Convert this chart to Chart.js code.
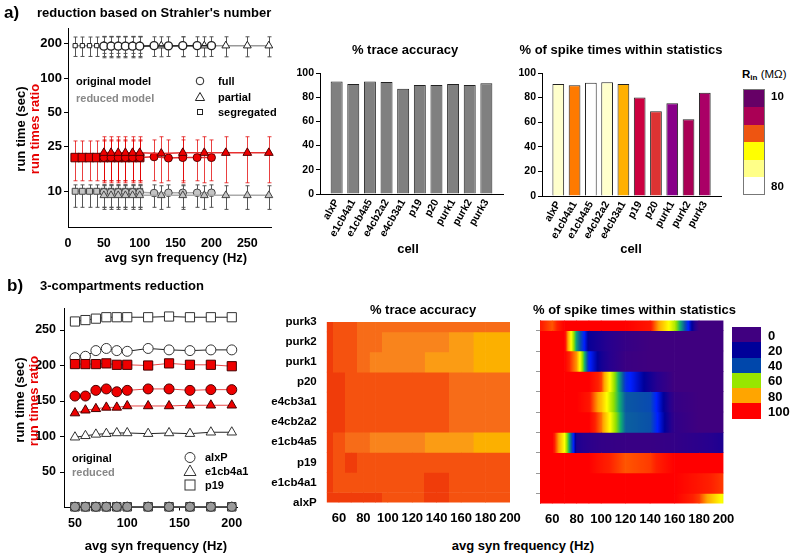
<!DOCTYPE html>
<html><head><meta charset="utf-8">
<script src="https://cdn.jsdelivr.net/npm/chart.js@4"></script>
<style>
html,body{margin:0;padding:0;background:#fff;}
#wrap{position:relative;width:797px;height:554px;overflow:hidden;font-family:"Liberation Sans",Arial,Helvetica,sans-serif;font-weight:bold;color:#000;}
canvas{position:absolute;}
.t{position:absolute;white-space:nowrap;line-height:1;}
.band{position:absolute;}
</style></head><body><div id="wrap"></div>
<script>
// ---------------- DATA ----------------
// Panel a) left: run time vs avg syn frequency (log scale)
const freqSegregated = [10,20,30,40,50,60,70,80,90,100];
const freqFull = [50,60,70,80,90,100,120,140,160,180,200];
const freqPartial = [50,60,70,80,90,100,130,160,190,220,250,280];

const origSegregated = [193,193,193,193,193,193,193,193,193,193];
const origSegLo = [155,155,155,155,155,155,155,155,155,155];
const origSegHi = [230,230,230,230,230,230,230,230,230,230];
const origFull = [191,191,191,191,191,191,193,192,193,193,193];
const origFullLo = [165,165,165,165,165,165,155,155,155,155,155];
const origFullHi = [232,232,232,232,232,232,231,231,231,231,231];
const origPartial = [192,192,192,192,192,192,193,193,193,193,193,193];
const origPartLo = [151,151,151,151,151,151,154,154,154,154,154,154];
const origPartHi = [233,233,233,233,233,233,231,231,231,231,231,231];

const ratioSegregated = [20,20,20,20,20,20,20,20,20,20];
const ratioSegLo = [12.5,12.5,12.5,12.5,12.5,12.5,12.5,12.5,12.5,12.5];
const ratioSegHi = [28,28,28,28,28,28,28,28,28,28];
const ratioFull = [20,20,20,20,20,20,20.3,19.8,20,20,20];
const ratioFullLo = [12.5,12.5,12.5,12.5,12.5,12.5,12.5,12.5,12.5,12.5,12.5];
const ratioFullHi = [28.6,28.6,28.6,28.6,28.6,28.6,28.6,28.6,28.6,28.6,28.6];
const ratioPartial = [22,22,22,22,22,22,21.7,22,22,22,22,22];
const ratioPartLo = [12,12,12,12,12,12,12,12,12,12,12,12];
const ratioPartHi = [30.5,30.5,30.5,30.5,30.5,30.5,30.5,30.5,30.5,30.5,30.5,30.5];

const redSegregated = [10.1,10.1,10.1,10.1,10.1,10.1,10.1,10.1,10.1,10.1];
const redSegLo = [7.3,7.3,7.3,7.3,7.3,7.3,7.3,7.3,7.3,7.3];
const redSegHi = [11.5,11.5,11.5,11.5,11.5,11.5,11.5,11.5,11.5,11.5];
const redFull = [9.9,9.9,9.9,9.9,9.9,9.9,9.75,9.8,9.8,9.8,9.8];
const redFullLo = [7.3,7.3,7.3,7.3,7.3,7.3,7.3,7.3,7.3,7.3,7.3];
const redFullHi = [11.5,11.5,11.5,11.5,11.5,11.5,11.5,11.5,11.5,11.5,11.5];
const redPartial = [9.3,9.3,9.3,9.3,9.3,9.3,9.3,9.3,9.3,9.3,9.3,9.3];
const redPartLo = [7,7,7,7,7,7,7,7,7,7,7,7];
const redPartHi = [11.3,11.3,11.3,11.3,11.3,11.3,11.3,11.3,11.3,11.3,11.3,11.3];

const a1XTicks = [0,50,100,150,200,250];
const a1YTicks = [10,25,50,100,200];

// Panel a) bar charts
const barCells = ['alxP','e1cb4a1','e1cb4a5','e4cb2a2','e4cb3a1','p19','p20','purk1','purk2','purk3'];
const traceAccuracy = [93,91,93,92.5,87,90,90,91,90,91.5];
const spikeWithin = [91,90,92,92.5,91,80,69,75.5,62.5,84];
const barYTicks = [0,20,40,60,80,100];
const rinTickLabels = ['10','80'];

// Panel b) left: 3-compartment reduction
const freqB = [50,60,70,80,90,100,120,140,160,180,200];
const origAlxP = [211,213,221,224,221,220,224,222,221,222,222];
const origE1cb4a1 = [99,101,103,104,105,105,104,105,104,106,106];
const origP19 = [262,264,266,268,268,268,268,269,268,268,268];
const ratioAlxP = [157,157,165,167,163,165,167,167,165,166,166];
const ratioE1cb4a1 = [133,137,139,141,141,143,143,143,144,144,144];
const ratioP19 = [202,202,202,203,201,201,200,203,201,201,199];
const reducedAlxP = [1,1,1,1,1,1,1,1,1,1,1];
const reducedE1cb4a1 = [1,1,1,1,1,1,1,1,1,1,1];
const reducedP19 = [1,1,1,1,1,1,1,1,1,1,1];
const b1XTicks = [50,100,150,200];
const b1YTicks = [50,100,150,200,250];

// Panel b) heatmaps (rows: cells bottom->top, columns: heatFreq)
const heatCells = ['alxP','e1cb4a1','p19','e1cb4a5','e4cb2a2','e4cb3a1','p20','purk1','purk2','purk3'];
const heatFreq = [50,60,70,80,90,100,120,140,160,180,200];
const heatXTicks = [60,80,100,120,140,160,180,200];
const traceAccMap = [
  [98,98,98,98,98,96,96,98,96,96,96],
  [98,96,96,96,96,96,96,98,96,96,96],
  [98,96,98,96,96,96,96,96,96,96,96],
  [98,96,94,94,92,92,92,90,90,88,88],
  [98,98,96,96,96,96,96,96,94,94,94],
  [98,98,96,96,96,96,96,96,94,94,94],
  [98,98,96,96,96,96,96,96,94,94,94],
  [98,96,96,94,92,92,92,90,90,88,88],
  [98,96,96,94,94,92,92,92,90,88,88],
  [98,96,96,94,94,94,94,94,94,94,94]
];
const spikeMap = [
  [100,100,100,100,100,100,100,100,100,92,68],
  [100,100,100,100,100,100,100,100,100,96,92],
  [100,100,100,100,100,96,90,92,100,100,100],
  [100,100,70,12,8,5,3,3,5,8,12],
  [100,100,100,100,100,88,38,36,6,0,0],
  [100,100,100,100,96,80,37,35,4,0,0],
  [100,100,100,100,100,92,30,14,0,0,0],
  [100,100,100,85,28,14,2,0,0,0,0],
  [100,100,100,45,16,12,4,0,0,0,0],
  [95,90,100,100,100,100,100,96,62,0,0]
];
const spikeLegendTicks = [0,20,40,60,80,100];

// ---------------- STYLE ----------------
const rinColors = ['#ffffcc','#ff7a00','#ffffff','#ffffcc','#ffb000','#cc0040','#dd3333','#880088','#aa0055','#aa0066'];
const rinLegendColors = ['#660066','#aa0055','#ee5511','#ffff00','#ffff88','#ffffff'];
const spikeLegendColors = ['#400080','#000099','#0047ab','#99e600','#ffa500','#ff0000'];
const traceLevels = [[97,'#f03c0a'],[95,'#f5520f'],[93,'#f76c18'],[91,'#f9841c'],[89,'#fb9c14'],[-1,'#fcb000']];
const spikeStops = [[0,'#3f007f'],[10,'#26008f'],[18,'#000099'],[27,'#0020ff'],[36,'#0a50a8'],[48,'#10b070'],[58,'#90e000'],[70,'#ffff00'],[84,'#ffa500'],[94,'#ff2000'],[100,'#ff0000']];
const RED = '#e60000';

const wrap = document.getElementById('wrap');
Chart.defaults.font.family = '"Liberation Sans", Arial, Helvetica, sans-serif';
Chart.defaults.font.weight = 'bold';
Chart.defaults.color = '#000';

function mkCanvas(L,T,W,H){
  const c = document.createElement('canvas');
  c.width = W; c.height = H;
  c.style.left = L+'px'; c.style.top = T+'px'; c.style.width = W+'px'; c.style.height = H+'px';
  wrap.appendChild(c); return c;
}
function txt(s, x, y, o={}){
  const d = document.createElement('div'); d.className = 't';
  d.innerHTML = s;
  d.style.fontSize = (o.size||13)+'px';
  d.style.color = o.color||'#000';
  d.style.fontWeight = o.weight||'bold';
  d.style.left = x+'px'; d.style.top = y+'px';
  const tx = o.align==='center' ? '-50%' : (o.align==='right' ? '-100%' : '0');
  d.style.transform = `translate(${tx},-50%)` + (o.rot ? ` rotate(${o.rot}deg)` : '');
  wrap.appendChild(d); return d;
}
function band(x,y,w,h,color){
  const d = document.createElement('div'); d.className='band';
  d.style.left=x+'px'; d.style.top=y+'px'; d.style.width=w+'px'; d.style.height=h+'px'; d.style.background=color;
  wrap.appendChild(d); return d;
}
function hexToRgb(h){ const n=parseInt(h.slice(1),16); return [(n>>16)&255,(n>>8)&255,n&255]; }
function spikeColor(v){
  for (let i=1;i<spikeStops.length;i++){
    if (v <= spikeStops[i][0]){
      const [v0,c0]=spikeStops[i-1], [v1,c1]=spikeStops[i];
      const t=(v-v0)/(v1-v0), a=hexToRgb(c0), b=hexToRgb(c1);
      return `rgb(${a.map((x,k)=>Math.round(x+(b[k]-x)*t)).join(',')})`;
    }
  }
  return spikeStops[spikeStops.length-1][1];
}
function traceColor(v){ for (const [th,c] of traceLevels) if (v>=th) return c; return traceLevels[traceLevels.length-1][1]; }
const setTicks = arr => s => { s.ticks = arr.map(v=>({value:v})); };
function base(pad){
  return { responsive:false, animation:false, events:[],
    layout:{padding:Object.assign({left:0,bottom:0},pad)},
    plugins:{legend:{display:false}, tooltip:{enabled:false}} };
}

const errorBarPlugin = {
  id:'errbars',
  beforeDatasetsDraw(chart){
    const ctx = chart.ctx, xs = chart.scales.x, ys = chart.scales.y;
    chart.data.datasets.forEach(ds=>{
      if (!ds.errLo) return;
      ctx.save(); ctx.strokeStyle = ds.errColor; ctx.lineWidth = 1;
      ds.data.forEach((d,j)=>{
        const px = Math.round(xs.getPixelForValue(d.x))+0.5;
        const y0 = ys.getPixelForValue(ds.errLo[j]), y1 = ys.getPixelForValue(ds.errHi[j]);
        ctx.beginPath();
        ctx.moveTo(px,y0); ctx.lineTo(px,y1);
        ctx.moveTo(px-2,y0); ctx.lineTo(px+2,y0);
        ctx.moveTo(px-2,y1); ctx.lineTo(px+2,y1);
        ctx.stroke();
      });
      ctx.restore();
    });
  }
};

function series(xs, ys, lo, hi, st){
  return Object.assign({
    data: xs.map((x,i)=>({x, y:ys[i]})), errLo: lo, errHi: hi,
    showLine:true, tension:0, clip:false, pointBorderWidth:1, borderWidth:1.5
  }, st);
}

// ---------------- PANEL a) LEFT ----------------
{
  const L=0,T=15,W=300,H=240;
  const c = mkCanvas(L,T,W,H);
  const origSt = {errColor:'#555', pointBackgroundColor:'#fff', pointBorderColor:'#222'};
  const ratioSt = {errColor:'rgba(225,0,0,0.75)', pointBackgroundColor:'#ee0000', pointBorderColor:'#500', borderColor:'#e83030'};
  const redSt = {errColor:'#555', pointBackgroundColor:'#c4c4c4', pointBorderColor:'#444', borderColor:'#aaa'};
  const opts = base({top:28-T, right:L+W-271});
  opts.scales = {
    x:{type:'linear', min:0, max:283, afterBuildTicks:setTicks(a1XTicks), afterFit:s=>{s.height=T+H-227;},
       grid:{display:true, drawOnChartArea:false, drawTicks:false}, border:{color:'#000'},
       ticks:{padding:9, maxRotation:0, font:{size:12.5}}},
    y:{type:'logarithmic', min:4.9, max:276, afterBuildTicks:setTicks(a1YTicks), afterFit:s=>{s.width=68-L;},
       grid:{display:true, drawOnChartArea:false, drawTicks:true, tickLength:4, color:'#000'}, border:{color:'#000'},
       ticks:{padding:2, callback:v=>String(v), font:{size:13}}}
  };
  new Chart(c, {type:'scatter', data:{datasets:[
    series(freqPartial, ratioPartial, ratioPartLo, ratioPartHi, Object.assign({pointStyle:'triangle', pointRadius:5}, ratioSt)),
    series(freqFull, ratioFull, ratioFullLo, ratioFullHi, Object.assign({pointStyle:'circle', pointRadius:4}, ratioSt)),
    series(freqSegregated, ratioSegregated, ratioSegLo, ratioSegHi, Object.assign({pointStyle:'rect', pointRadius:6}, ratioSt)),
    series(freqFull, origFull, origFullLo, origFullHi, Object.assign({pointStyle:'circle', pointRadius:4, pointBorderWidth:1.4, borderColor:'#222'}, origSt)),
    series(freqPartial, origPartial, origPartLo, origPartHi, Object.assign({pointStyle:'triangle', pointRadius:4.5, borderColor:'#999'}, origSt)),
    series(freqSegregated, origSegregated, origSegLo, origSegHi, Object.assign({pointStyle:'rect', pointRadius:3, borderColor:'#999'}, origSt)),
    series(freqPartial, redPartial, redPartLo, redPartHi, Object.assign({pointStyle:'triangle', pointRadius:4.5}, redSt)),
    series(freqFull, redFull, redFullLo, redFullHi, Object.assign({pointStyle:'circle', pointRadius:3.8}, redSt)),
    series(freqSegregated, redSegregated, redSegLo, redSegHi, Object.assign({pointStyle:'rect', pointRadius:4.2}, redSt))
  ]}, options:opts, plugins:[errorBarPlugin]});
}

// ---------------- PANEL a) BARS ----------------
function barChart(L,T,W,H,area,values,colors){
  const c = mkCanvas(L,T,W,H);
  const opts = base({top:area.t-T, right:L+W-area.r});
  opts.scales = {
    x:{type:'category', offset:false, afterFit:s=>{s.height=T+H-area.b;},
       grid:{display:true, drawOnChartArea:false, drawTicks:false}, border:{color:'#000'},
       ticks:{autoSkip:false, minRotation:60, maxRotation:60, padding:3, font:{size:10.5}}},
    y:{min:0, max:100, afterBuildTicks:setTicks(barYTicks), afterFit:s=>{s.width=area.l-L;},
       grid:{display:true, drawOnChartArea:false, drawTicks:true, tickLength:4, color:'#000'}, border:{color:'#000'},
       ticks:{padding:2, font:{size:10.5}}}
  };
  new Chart(c, {type:'bar', data:{labels:['',...barCells,''], datasets:[{
    data:[null,...values,null], backgroundColor:['#fff',...colors,'#fff'], borderColor:'#222', borderWidth:1,
    categoryPercentage:1, barPercentage:0.72
  }]}, options:opts});
}
barChart(290,60,230,200,{l:320,t:73,r:503,b:194}, traceAccuracy, barCells.map(()=> '#808080'));
barChart(510,60,225,200,{l:542,t:73,r:725,b:196}, spikeWithin, rinColors);

// ---------------- PANEL b) LEFT ----------------
{
  const L=0,T=295,W=260,H=245;
  const c = mkCanvas(L,T,W,H);
  const opts = base({top:308-T, right:L+W-237});
  opts.scales = {
    x:{type:'linear', min:39.5, max:205, afterBuildTicks:setTicks(b1XTicks), afterFit:s=>{s.height=T+H-507.5;},
       grid:{display:true, drawOnChartArea:false, drawTicks:true, tickLength:3, color:'#000'}, border:{color:'#000'},
       ticks:{padding:6, maxRotation:0, font:{size:12.5}}},
    y:{type:'linear', min:0, max:281, afterBuildTicks:setTicks(b1YTicks), afterFit:s=>{s.width=64-L;},
       grid:{display:true, drawOnChartArea:false, drawTicks:true, tickLength:4, color:'#000'}, border:{color:'#000'},
       ticks:{padding:4, font:{size:12.5}}}
  };
  const wSt = {pointBackgroundColor:'#fff', pointBorderColor:'#333', borderColor:'#222', borderWidth:1};
  const rSt = {pointBackgroundColor:'#ee0000', pointBorderColor:'#400', borderColor:'#e84545', borderWidth:1};
  const gSt = {pointBackgroundColor:'#9a9a9a', pointBorderColor:'#333', borderColor:'#555', borderWidth:1.5};
  new Chart(c, {type:'scatter', data:{datasets:[
    series(freqB, reducedAlxP, null, null, Object.assign({pointStyle:'circle', pointRadius:4.5}, gSt)),
    series(freqB, reducedE1cb4a1, null, null, Object.assign({pointStyle:'triangle', pointRadius:5}, gSt)),
    series(freqB, reducedP19, null, null, Object.assign({pointStyle:'rect', pointRadius:6}, gSt)),
    series(freqB, ratioAlxP, null, null, Object.assign({pointStyle:'circle', pointRadius:5}, rSt)),
    series(freqB, ratioE1cb4a1, null, null, Object.assign({pointStyle:'triangle', pointRadius:5.5}, rSt)),
    series(freqB, ratioP19, null, null, Object.assign({pointStyle:'rect', pointRadius:6.5}, rSt)),
    series(freqB, origAlxP, null, null, Object.assign({pointStyle:'circle', pointRadius:5}, wSt)),
    series(freqB, origE1cb4a1, null, null, Object.assign({pointStyle:'triangle', pointRadius:5.5}, wSt)),
    series(freqB, origP19, null, null, Object.assign({pointStyle:'rect', pointRadius:6.5}, wSt))
  ]}, options:opts});
}

// ---------------- PANEL b) HEATMAPS ----------------
// each cell spans two neighbouring frequencies and is shaded by a horizontal gradient between their values
function heatDatasets(values, colorFn, nStops){
  const ds = [];
  for (let c=0; c<heatFreq.length-1; c++){
    const lo = heatFreq[c], hi = heatFreq[c+1];
    ds.push({
      data: heatCells.map(()=>[lo,hi]),
      backgroundColor: (ctx)=>{
        const r = ctx.dataIndex;
        if (r === undefined || !values[r]) return '#fff';
        const v0 = values[r][c], v1 = values[r][c+1];
        const chart = ctx.chart, xs = chart.scales && chart.scales.x;
        const p0 = xs ? xs.getPixelForValue(lo) : NaN, p1 = xs ? xs.getPixelForValue(hi) : NaN;
        if (!isFinite(p0) || !isFinite(p1) || p0 === p1) return colorFn((v0+v1)/2);
        const g = chart.ctx.createLinearGradient(p0,0,p1,0);
        for (let k=0;k<=nStops;k++){ const t=k/nStops; g.addColorStop(t, colorFn(v0+(v1-v0)*t)); }
        return g;
      },
      borderWidth:0, grouped:false, categoryPercentage:1, barPercentage:1, clip:0
    });
  }
  return ds;
}
function heatChart(L,T,W,H,area,values,colorFn,showLabels,nStops){
  const c = mkCanvas(L,T,W,H);
  const opts = base({top:area.t-T, right:L+W-area.r});
  opts.indexAxis = 'y';
  opts.scales = {
    x:{type:'linear', min:50, max:200, afterBuildTicks:setTicks(heatXTicks), afterFit:s=>{s.height=T+H-area.b;},
       grid:{display:false, drawTicks:false}, border:{display:false},
       ticks:{padding:8, maxRotation:0, font:{size:13}}},
    y:{type:'category', reverse:true, offset:false, afterFit:s=>{s.width=area.l-L;},
       grid: showLabels ? {display:false, drawTicks:false} : {display:true, drawOnChartArea:false, drawTicks:true, tickLength:4, color:'#999'},
       border: showLabels ? {display:false} : {display:true, color:'#999'},
       ticks: showLabels ? {padding:10, font:{size:11.5}, autoSkip:false} : {display:false}}
  };
  const ch = new Chart(c, {type:'bar', data:{labels:heatCells, datasets:heatDatasets(values,colorFn,nStops)}, options:opts});
  ch.update('none');
}

try {
  heatChart(270,305,260,225,{l:326.7,t:319.5,r:510,b:502.5}, traceAccMap, traceColor, true, 60);
  heatChart(520,305,225,225,{l:540,t:320.5,r:723.5,b:503.5}, spikeMap, spikeColor, false, 30);
} catch(e) { console.error(e); }

// ---------------- TEXT & LEGENDS ----------------
txt('a)', 4, 12, {size:17});
txt("reduction based on Strahler's number", 37, 12, {size:13});
txt('run time (sec)', 20, 128.5, {size:13, align:'center', rot:-90});
txt('run times ratio', 34, 129, {size:13, align:'center', rot:-90, color:RED});
txt('original model', 76, 81, {size:11});
txt('reduced model', 76, 98, {size:11, color:'#888'});
txt('full', 218, 81, {size:11});
txt('partial', 218, 97, {size:11});
txt('segregated', 218, 112, {size:11});
txt('avg syn frequency (Hz)', 176, 257, {size:13, align:'center'});

txt('% trace accuracy', 405, 49, {size:13, align:'center'});
txt('cell', 408, 248, {size:13, align:'center'});
txt('% of spike times within statistics', 621, 49, {size:13, align:'center'});
txt('cell', 631, 248, {size:13, align:'center'});
txt('R<sub style="font-size:8px;vertical-align:-2px">in</sub> <span style="font-weight:normal">(M&Omega;)</span>', 742, 75, {size:11.5});
{
  const x=742.5, y0=89.3, w=22.5, h=105.7/rinLegendColors.length;
  rinLegendColors.forEach((col,i)=>band(x, y0+i*h, w, h+0.4, col));
  const fr = band(x, y0, w, 105.7, 'transparent'); fr.style.boxSizing='border-box'; fr.style.border='1px solid #777';
  txt(rinTickLabels[0], 771, 97, {size:11.5});
  txt(rinTickLabels[1], 771, 187, {size:11.5});
}

txt('b)', 7, 285, {size:17});
txt('3-compartments reduction', 40, 285, {size:13});
txt('run time (sec)', 19, 400, {size:13, align:'center', rot:-90});
txt('run times ratio', 33, 401, {size:13, align:'center', rot:-90, color:RED});
txt('original', 72, 458, {size:11});
txt('reduced', 72, 472, {size:11, color:'#888'});
txt('alxP', 205, 457, {size:11});
txt('e1cb4a1', 205, 471, {size:11});
txt('p19', 205, 485, {size:11});
txt('avg syn frequency (Hz)', 156, 545, {size:13, align:'center'});

txt('% trace accuracy', 423, 309, {size:13, align:'center'});
txt('% of spike times within statistics', 634.5, 309, {size:13, align:'center'});
txt('avg syn frequency (Hz)', 523, 545, {size:13, align:'center'});
{
  const x=732, y0=327.3, w=29, h=(418.3-327.3)/spikeLegendColors.length;
  spikeLegendColors.forEach((col,i)=>{
    band(x, y0+i*h, w, h+0.4, col);
    txt(String(spikeLegendTicks[i]), 768, y0+(i+0.5)*h, {size:13});
  });
}

// legend markers (svg)
const svgNS='http://www.w3.org/2000/svg';
const svg=document.createElementNS(svgNS,'svg');
svg.setAttribute('width','797'); svg.setAttribute('height','554');
svg.style.position='absolute'; svg.style.left='0'; svg.style.top='0'; svg.style.pointerEvents='none';
svg.innerHTML = `
<circle cx="200" cy="81" r="3.8" fill="#fff" stroke="#222" stroke-width="1"/>
<polygon points="200,92.5 204.6,100.5 195.4,100.5" fill="#fff" stroke="#222" stroke-width="1"/>
<rect x="197.5" y="109.5" width="5" height="5" fill="#fff" stroke="#222" stroke-width="1"/>
<circle cx="190" cy="457.5" r="5" fill="#fff" stroke="#333" stroke-width="1"/>
<polygon points="190,465 196,475.5 184,475.5" fill="#fff" stroke="#333" stroke-width="1"/>
<rect x="185" y="480" width="10" height="10" fill="#fff" stroke="#333" stroke-width="1"/>`;
wrap.appendChild(svg);
</script>
</body></html>
